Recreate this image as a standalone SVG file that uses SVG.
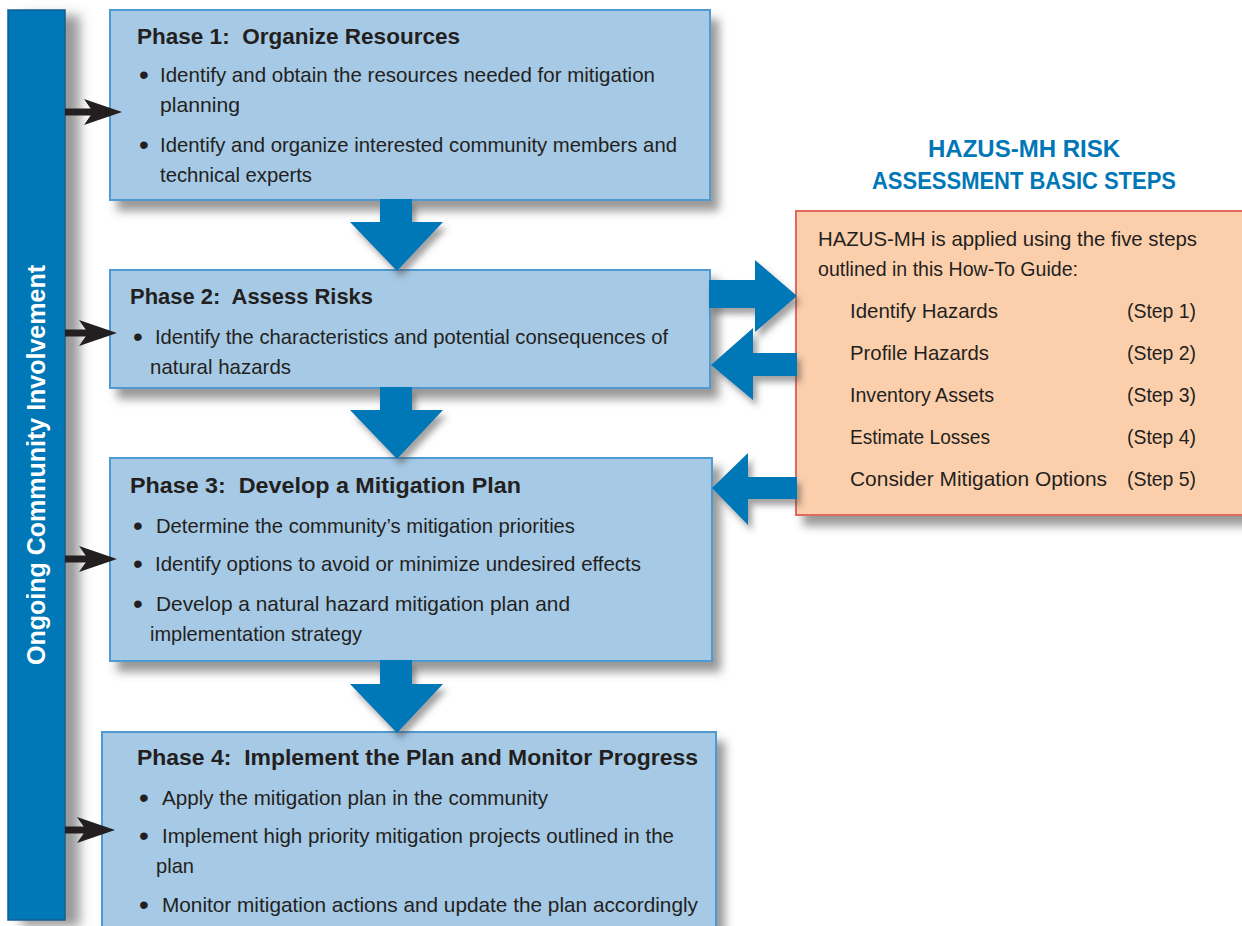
<svg xmlns="http://www.w3.org/2000/svg" width="1242" height="926" viewBox="0 0 1242 926">
<defs>
<filter id="sh" x="-10%" y="-10%" width="130%" height="140%">
<feDropShadow dx="8" dy="10" stdDeviation="5" flood-color="#555" flood-opacity="0.6"/>
</filter>
<filter id="shb" x="-50%" y="-5%" width="250%" height="115%">
<feDropShadow dx="14" dy="6" stdDeviation="6" flood-color="#555" flood-opacity="0.6"/>
</filter>
<filter id="sh2" x="-20%" y="-20%" width="160%" height="160%">
<feDropShadow dx="4" dy="6" stdDeviation="3" flood-color="#444" flood-opacity="0.5"/>
</filter>
<marker id="ah" viewBox="0 0 38 26" refX="16" refY="13" markerWidth="38" markerHeight="26" markerUnits="userSpaceOnUse" orient="auto">
<path d="M0,0 L38,13 L0,26 L9,13 Z" fill="#231f20"/>
</marker>
</defs>
<style>
.box{fill:#a6c9e5;stroke:#4f9ad0;stroke-width:2}
.hz{fill:#fccfac;stroke:#e06b5e;stroke-width:2}
.ba{fill:#0077b6}
.h{font-family:"Liberation Sans",Arial,sans-serif;font-weight:bold;font-size:22px;fill:#231f20}
.t{font-family:"Liberation Sans",Arial,sans-serif;font-size:21px;fill:#231f20}
.b{font-family:"Liberation Sans",Arial,sans-serif;font-size:28px;fill:#231f20}
.ti{font-family:"Liberation Sans",Arial,sans-serif;font-weight:bold;font-size:23px;fill:#0077b6}
.v{font-family:"Liberation Sans",Arial,sans-serif;font-weight:bold;font-size:26px;fill:#ffffff}
.ca{stroke:#231f20;stroke-width:7;fill:none}
</style>
<rect width="1242" height="926" fill="#ffffff"/>

<g id="bar">
<rect x="8" y="10" width="57" height="910" fill="#0077b6" stroke="#0a5f93" stroke-width="1.5" filter="url(#shb)"/>
<text class="v" transform="translate(45,665) rotate(-90)" textLength="400" lengthAdjust="spacingAndGlyphs">Ongoing Community Involvement</text>
</g>

<g id="phase1">
<rect class="box" x="110" y="10" width="600" height="190" filter="url(#sh)"/>
<text class="h" x="137" y="44" textLength="323" lengthAdjust="spacingAndGlyphs" xml:space="preserve">Phase 1:  Organize Resources</text>
<text class="b" x="139" y="84">•</text>
<text class="t" x="160" y="82" textLength="495" lengthAdjust="spacingAndGlyphs">Identify and obtain the resources needed for mitigation</text>
<text class="t" x="160" y="112" textLength="80" lengthAdjust="spacingAndGlyphs">planning</text>
<text class="b" x="139" y="154">•</text>
<text class="t" x="160" y="152" textLength="517" lengthAdjust="spacingAndGlyphs">Identify and organize interested community members and</text>
<text class="t" x="160" y="182" textLength="152" lengthAdjust="spacingAndGlyphs">technical experts</text>
</g>

<g id="phase2">
<rect class="box" x="110" y="270" width="600" height="118" filter="url(#sh)"/>
<text class="h" x="130" y="304" textLength="243" lengthAdjust="spacingAndGlyphs" xml:space="preserve">Phase 2:  Assess Risks</text>
<text class="b" x="133" y="346">•</text>
<text class="t" x="155" y="344" textLength="513" lengthAdjust="spacingAndGlyphs">Identify the characteristics and potential consequences of</text>
<text class="t" x="150" y="374" textLength="141" lengthAdjust="spacingAndGlyphs">natural hazards</text>
</g>

<g id="phase3">
<rect class="box" x="110" y="458" width="602" height="203" filter="url(#sh)"/>
<text class="h" x="130" y="493" textLength="391" lengthAdjust="spacingAndGlyphs" xml:space="preserve">Phase 3:  Develop a Mitigation Plan</text>
<text class="b" x="133" y="535">•</text>
<text class="t" x="156" y="533" textLength="419" lengthAdjust="spacingAndGlyphs">Determine the community’s mitigation priorities</text>
<text class="b" x="133" y="573">•</text>
<text class="t" x="155" y="571" textLength="486" lengthAdjust="spacingAndGlyphs">Identify options to avoid or minimize undesired effects</text>
<text class="b" x="133" y="613">•</text>
<text class="t" x="156" y="611" textLength="414" lengthAdjust="spacingAndGlyphs">Develop a natural hazard mitigation plan and</text>
<text class="t" x="150" y="641" textLength="212" lengthAdjust="spacingAndGlyphs">implementation strategy</text>
</g>

<g id="phase4">
<rect class="box" x="102" y="732" width="614" height="210" filter="url(#sh)"/>
<text class="h" x="137" y="765" textLength="561" lengthAdjust="spacingAndGlyphs" xml:space="preserve">Phase 4:  Implement the Plan and Monitor Progress</text>
<text class="b" x="139" y="807">•</text>
<text class="t" x="162" y="805" textLength="386" lengthAdjust="spacingAndGlyphs">Apply the mitigation plan in the community</text>
<text class="b" x="139" y="845">•</text>
<text class="t" x="162" y="843" textLength="512" lengthAdjust="spacingAndGlyphs">Implement high priority mitigation projects outlined in the</text>
<text class="t" x="156" y="873" textLength="38" lengthAdjust="spacingAndGlyphs">plan</text>
<text class="b" x="139" y="914">•</text>
<text class="t" x="162" y="912" textLength="536" lengthAdjust="spacingAndGlyphs">Monitor mitigation actions and update the plan accordingly</text>
</g>

<g id="title">
<text class="ti" x="1024" y="157" text-anchor="middle" textLength="192" lengthAdjust="spacingAndGlyphs">HAZUS-MH RISK</text>
<text class="ti" x="1024" y="189" text-anchor="middle" textLength="304" lengthAdjust="spacingAndGlyphs">ASSESSMENT BASIC STEPS</text>
</g>

<g id="hazus">
<rect class="hz" x="796" y="211" width="450" height="304" filter="url(#sh)"/>
<text class="t" x="818" y="246" textLength="379" lengthAdjust="spacingAndGlyphs">HAZUS-MH is applied using the five steps</text>
<text class="t" x="818" y="276" textLength="260" lengthAdjust="spacingAndGlyphs">outlined in this How-To Guide:</text>
<text class="t" x="850" y="318" textLength="148" lengthAdjust="spacingAndGlyphs">Identify Hazards</text>
<text class="t" x="1127" y="318" textLength="69" lengthAdjust="spacingAndGlyphs">(Step 1)</text>
<text class="t" x="850" y="360" textLength="139" lengthAdjust="spacingAndGlyphs">Profile Hazards</text>
<text class="t" x="1127" y="360" textLength="69" lengthAdjust="spacingAndGlyphs">(Step 2)</text>
<text class="t" x="850" y="402" textLength="144" lengthAdjust="spacingAndGlyphs">Inventory Assets</text>
<text class="t" x="1127" y="402" textLength="69" lengthAdjust="spacingAndGlyphs">(Step 3)</text>
<text class="t" x="850" y="444" textLength="140" lengthAdjust="spacingAndGlyphs">Estimate Losses</text>
<text class="t" x="1127" y="444" textLength="69" lengthAdjust="spacingAndGlyphs">(Step 4)</text>
<text class="t" x="850" y="486" textLength="257" lengthAdjust="spacingAndGlyphs">Consider Mitigation Options</text>
<text class="t" x="1127" y="486" textLength="69" lengthAdjust="spacingAndGlyphs">(Step 5)</text>
</g>

<g id="connectors">
<path class="ba" filter="url(#sh2)" d="M380,199 L412,199 L412,222 L443,222 L397,271 L350,222 L380,222 Z"/>
<path class="ba" filter="url(#sh2)" d="M380,387 L412,387 L412,410 L443,410 L397,459 L350,410 L380,410 Z"/>
<path class="ba" filter="url(#sh2)" d="M380,660 L412,660 L412,684 L443,684 L397,733 L350,684 L380,684 Z"/>
<path class="ba" filter="url(#sh2)" d="M709,280 L755,280 L755,260 L797,296 L755,332 L755,308 L709,308 Z"/>
<path class="ba" filter="url(#sh2)" d="M797,353 L753,353 L753,328 L711,365 L753,400 L753,376 L797,376 Z"/>
<path class="ba" filter="url(#sh2)" d="M797,477 L748,477 L748,453 L712,488 L748,525 L748,499 L797,499 Z"/>
<line class="ca" x1="65" y1="112" x2="100" y2="112" marker-end="url(#ah)"/>
<line class="ca" x1="65" y1="333" x2="95" y2="333" marker-end="url(#ah)"/>
<line class="ca" x1="65" y1="559" x2="95" y2="559" marker-end="url(#ah)"/>
<line class="ca" x1="65" y1="830" x2="93" y2="830" marker-end="url(#ah)"/>
</g>
</svg>
